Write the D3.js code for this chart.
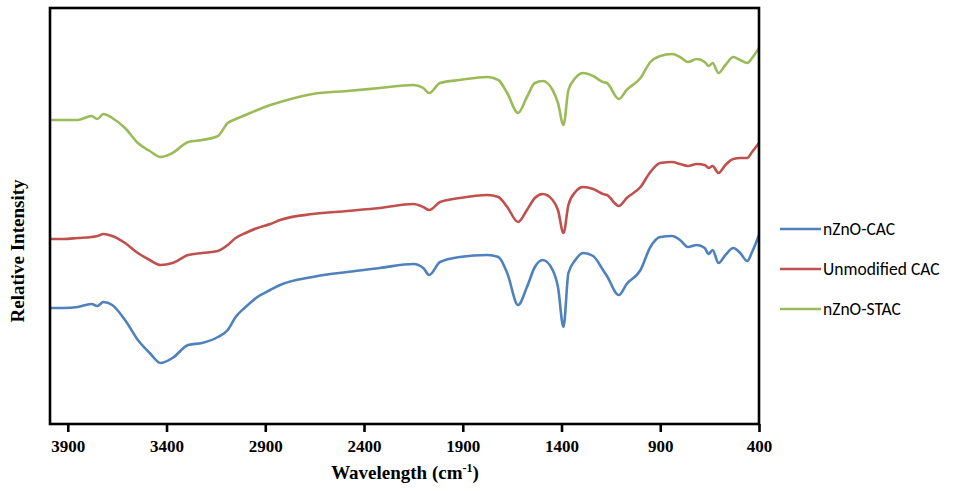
<!DOCTYPE html>
<html>
<head>
<meta charset="utf-8">
<script src="https://cdn.jsdelivr.net/npm/d3@7"></script>
<style>
  body { margin: 0; background: #fff; }
  svg { display: block; }
</style>
</head>
<body>
<svg width="954" height="491"></svg>
<script>
// wavenumbers (cm-1)
var wavenumbers = [3990,3920,3850,3780,3750,3720,3675,3610,3545,3485,
  3430,3370,3290,3220,3140,3090,3050,3000,2940,2875,
  2825,2660,2485,2320,2150,2100,2070,2015,1915,1775,
  1720,1675,1620,1575,1535,1495,1445,1418,1390,1365,
  1330,1290,1240,1190,1170,1110,1070,1000,950,900,
  840,800,760,715,675,655,635,605,570,530,
  495,460,435,400];

var nZnOCAC = [29,29,29.25,30,29.5,30.5,29.75,26,21,17.75,
  15.25,16.5,19.75,20.25,21.75,23.5,26.75,29.25,31.75,33.5,
  34.75,36.75,38,39,40,39,37.25,40.5,41.75,42.25,
  41.75,37.75,29.75,34.25,39.25,41,38.5,34.25,24.25,37.75,
  41,42.75,42,38.5,37,32.25,35,38.5,44.25,46.75,
  47,46,44.25,44.75,44,42.5,43.5,40.25,42.25,44,
  42.75,40.75,43,47.25];

var unmodifiedCAC = [46.25,46.25,46.5,46.75,47,47.5,47,45.25,42.75,41,
  39.75,40.25,42.25,42.75,43.25,44.75,46.5,47.75,49,50,
  51,52.5,53.25,54,55,54.25,53.5,55.5,56.5,57.25,
  56.75,54.25,50.5,53.5,56.5,57.5,56,53.5,47.75,54.75,
  58,59.25,58.75,57.5,57.25,54.5,56.5,59.25,63,65.25,
  65.5,65,64.5,65,64.75,64,64.5,62.75,64.75,66.25,
  66.5,66.5,68,70.25];

var nZnOSTAC = [76,76,76,77,76.25,77.5,76.5,74,70.25,68.25,
  66.75,67.75,70.5,71,72,75.25,76.25,77.25,78.5,79.75,
  80.5,82.5,83.25,84,84.75,84,82.75,85.25,86,86.75,
  86,82.75,77.75,81.75,85.25,85.75,83.5,80.25,74.75,83.5,
  86.5,87.75,87,85.5,85.25,81.25,83.5,86.5,90.5,92,
  92.5,91.75,90.5,91.25,90.5,89.5,90.25,87.75,89.75,91.75,
  91,90.25,91.5,94];

var seriesNames = ["nZnO-CAC", "Unmodified CAC", "nZnO-STAC"];
var seriesColors = ["#4F81BD", "#C0504D", "#9BBB59"];
var xTicks = [3900, 3400, 2900, 2400, 1900, 1400, 900, 400];

var svg = d3.select("svg"),
    plotLeft = 50, plotRight = 759, plotTop = 8, plotBottom = 424;

var xScale = d3.scaleLinear().domain([3990, 400]).range([plotLeft, plotRight]),
    yScale = d3.scaleLinear().domain([0, 104]).range([plotBottom, plotTop]);

var allSeries = [nZnOCAC, unmodifiedCAC, nZnOSTAC];

var line = d3.line()
    .x(function(d) { return xScale(d[0]); })
    .y(function(d) { return yScale(d[1]); })
    .curve(d3.curveMonotoneX);

svg.append("g").attr("class", "lines")
  .selectAll("path")
  .data(allSeries)
  .enter().append("path")
  .attr("fill", "none")
  .attr("stroke", function(d, i) { return seriesColors[i]; })
  .attr("stroke-width", 2.6)
  .attr("stroke-linejoin", "round")
  .attr("d", function(vals) {
      return line(vals.map(function(v, j) { return [wavenumbers[j], v]; }));
  });

// frame
svg.append("rect")
  .attr("x", plotLeft).attr("y", plotTop)
  .attr("width", plotRight - plotLeft).attr("height", plotBottom - plotTop)
  .attr("fill", "none")
  .attr("stroke", "#000")
  .attr("stroke-width", 2.6);

var xAxis = svg.append("g")
  .attr("transform", "translate(0," + plotBottom + ")")
  .call(d3.axisBottom(xScale).tickValues(xTicks).tickSize(8).tickPadding(8)
        .tickFormat(d3.format("d")));
xAxis.select(".domain").remove();
xAxis.selectAll("line").attr("stroke", "#000").attr("stroke-width", 2.6);
xAxis.selectAll("text")
  .attr("fill", "#000")
  .style("font-family", "'Liberation Serif', 'Times New Roman', serif")
  .style("font-weight", "bold")
  .style("font-size", "17px");

var xTitle = svg.append("text")
  .attr("x", 405)
  .attr("y", 479)
  .attr("text-anchor", "middle")
  .style("font-family", "'Liberation Serif', 'Times New Roman', serif")
  .style("font-weight", "bold")
  .style("font-size", "19px");
xTitle.append("tspan").text("Wavelength (cm");
xTitle.append("tspan").attr("dy", -7).style("font-size", "12px").text("-1");
xTitle.append("tspan").attr("dy", 7).text(")");

svg.append("text")
  .attr("transform", "translate(24,251) rotate(-90)")
  .attr("text-anchor", "middle")
  .style("font-family", "'Liberation Serif', 'Times New Roman', serif")
  .style("font-weight", "bold")
  .style("font-size", "19px")
  .text("Relative Intensity");

// legend
var legend = svg.append("g").attr("transform", "translate(780,229)");
var item = legend.selectAll("g")
  .data(seriesNames)
  .enter().append("g")
  .attr("transform", function(d, i) { return "translate(0," + i * 40 + ")"; });
item.append("line")
  .attr("x1", 0).attr("x2", 41)
  .attr("stroke", function(d, i) { return seriesColors[i]; })
  .attr("stroke-width", 2.6);
item.append("text")
  .attr("x", 43).attr("dy", "0.35em")
  .style("font-family", "Carlito, 'Open Sans', 'Noto Sans', sans-serif")
  .style("font-size", "17.5px")
  .attr("fill", "#000")
  .text(function(d) { return d; });
</script>
</body>
</html>
